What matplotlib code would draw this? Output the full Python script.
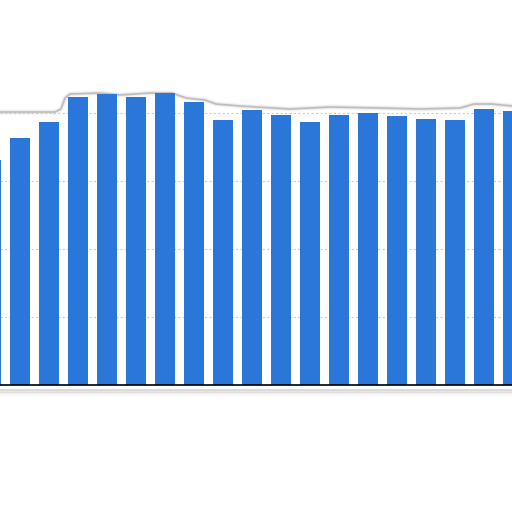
import numpy as np
import matplotlib
matplotlib.use("Agg")
import matplotlib.pyplot as plt
from matplotlib.patches import Polygon

# bar values (grid step = 25)
values = [82.7, 90.8, 96.7, 106.0, 107.0, 105.8, 107.5, 104.0, 97.3, 101.0,
          99.3, 96.6, 99.3, 100.1, 99.0, 97.9, 97.5, 101.6, 100.8]
positions = list(range(len(values)))
grid_ticks = [25, 50, 75, 100]

W = 512
fig = plt.figure(figsize=(5.12, 5.12), dpi=100)
fig.patch.set_facecolor("white")

# torn paper outline (pixel coords, y from top)
edge = [(0, 112), (55, 112), (61, 109), (65, 98), (70, 94), (100, 93), (120, 95),
        (150, 93), (172, 93), (186, 98), (205, 100), (216, 104), (240, 106),
        (290, 109), (330, 107), (380, 108), (420, 109), (460, 108), (474, 104),
        (492, 104), (512, 106)]
ex = [x / W for x, y in edge]
ey = [1 - y / W for x, y in edge]
for lw, a in [(4, 0.06), (2.5, 0.12)]:
    fig.add_artist(plt.Line2D(ex, ey, color="#888888", lw=lw, alpha=a,
                              transform=fig.transFigure, zorder=-2))
fig.add_artist(plt.Line2D(ex, ey, color="#bdbdbd", lw=1.2,
                          transform=fig.transFigure, zorder=-1))
# soft shadow under the bottom edge
for k, a in enumerate([0.35, 0.22, 0.12, 0.05]):
    y = 1 - (390 + k * 1.5) / W
    fig.add_artist(plt.Line2D([0, 1], [y, y], color="#999999", lw=1.5, alpha=a,
                              transform=fig.transFigure, zorder=-1))

base = 385
ax = fig.add_axes([0, 1 - base / W, 1, base / W])
ax.set_facecolor("none")
ax.bar(positions, values, width=0.69, color="#2a77d9", zorder=3)
ax.set_xlim(9 / 29, (W + 9) / 29)
ax.set_ylim(0, base / 68 * 25)
ax.set_yticks(grid_ticks)
ax.set_xticks([])
ax.tick_params(left=False, labelleft=False)
ax.grid(axis="y", color="#cccccc", linestyle=(0, (2, 2)), lw=0.8, zorder=0)
for s in ["top", "left", "right"]:
    ax.spines[s].set_visible(False)
ax.spines["bottom"].set_color("black")
ax.spines["bottom"].set_linewidth(1.2)
ax.spines["bottom"].set_zorder(4)

fig.savefig("out.png", dpi=100)
